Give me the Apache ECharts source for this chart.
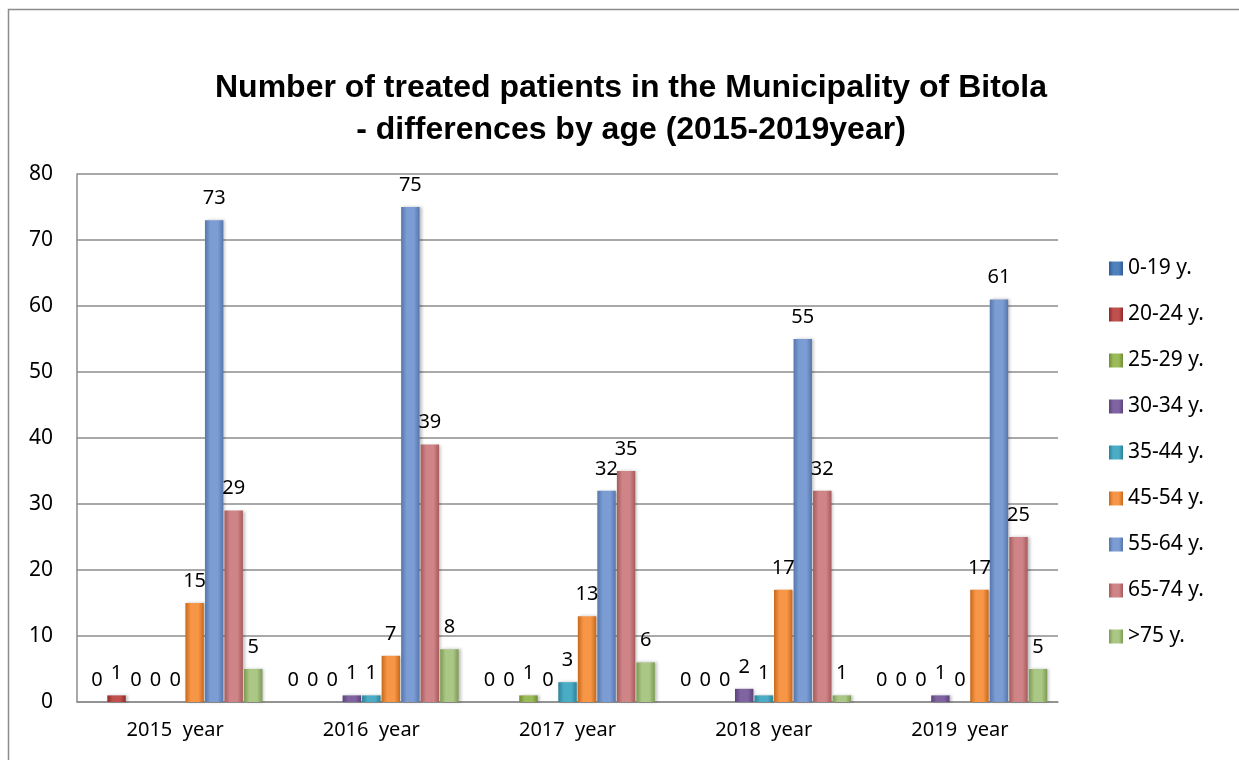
<!doctype html>
<html lang="en">
<head>
<meta charset="UTF-8">
<script src="https://cdn.jsdelivr.net/npm/echarts@6/dist/echarts.min.js"></script>
<style>
  html, body { margin: 0; padding: 0; background: #fff; }
  #main { width: 1239px; height: 760px; }
</style>
</head>
<body>
<div id="main"></div>
<script type="text/javascript">
// data
var years = ['2015  year', '2016  year', '2017  year', '2018  year', '2019  year'];
var ageGroups = ['0-19 y.', '20-24 y.', '25-29 y.', '30-34 y.', '35-44 y.', '45-54 y.', '55-64 y.', '65-74 y.', '>75 y.'];
var age0_19  = [0, 0, 0, 0, 0];
var age20_24 = [1, 0, 0, 0, 0];
var age25_29 = [0, 0, 1, 0, 0];
var age30_34 = [0, 1, 0, 2, 1];
var age35_44 = [0, 1, 3, 1, 0];
var age45_54 = [15, 7, 13, 17, 17];
var age55_64 = [73, 75, 32, 55, 61];
var age65_74 = [29, 39, 35, 32, 25];
var age75up  = [5, 8, 6, 1, 5];
var yTicks = [0, 10, 20, 30, 40, 50, 60, 70, 80];

var allSeries = [age0_19, age20_24, age25_29, age30_34, age35_44, age45_54, age55_64, age65_74, age75up];
// edge / middle colour for each bar
var colors = [
    ['#2f5b92', '#4f81bd'],
    ['#8e2a28', '#c0504d'],
    ['#6e8c34', '#9bbb59'],
    ['#5b4479', '#8064a2'],
    ['#2b8399', '#4bacc6'],
    ['#c8691a', '#f79646'],
    ['#5676ad', '#7b9dd3'],
    ['#a85a5c', '#cf8587'],
    ['#7d9b53', '#abc785']
];

var myChart = echarts.init(document.getElementById('main'));

var series = [];
for (var i = 0; i < ageGroups.length; i++) {
    series.push({
        name: ageGroups[i],
        type: 'bar',
        data: allSeries[i],
        barGap: '6%',
        barCategoryGap: '11%',
        itemStyle: {
            color: new echarts.graphic.LinearGradient(0, 0, 1, 0, [
                { offset: 0, color: colors[i][0] },
                { offset: 0.3, color: colors[i][1] },
                { offset: 0.7, color: colors[i][1] },
                { offset: 1, color: colors[i][0] }
            ]),
            shadowColor: 'rgba(0,0,0,0.25)',
            shadowBlur: 3,
            shadowOffsetX: 2
        },
        label: {
            show: true,
            position: 'top',
            distance: 12,
            color: '#000',
            fontFamily: 'Noto Sans',
            fontSize: 20
        }
    });
}

option = {
    animation: false,
    backgroundColor: '#fff',
    title: {
        text: 'Number of treated patients in the Municipality of Bitola\n- differences by age (2015-2019year)',
        left: 626,
        textAlign: 'center',
        top: 62,
        textStyle: {
            fontFamily: 'Liberation Sans',
            fontWeight: 'bold',
            fontSize: 32,
            lineHeight: 42,
            color: '#000'
        }
    },
    graphic: [{
        type: 'rect',
        shape: { x: 8.5, y: 9.5, width: 1250, height: 780 },
        style: { fill: 'none', stroke: '#8c8c8c', lineWidth: 1.5 },
        silent: true
    }],
    legend: {
        orient: 'vertical',
        left: 1104,
        top: 253,
        itemWidth: 14,
        itemHeight: 14,
        itemGap: 25,
        icon: 'rect',
        data: ageGroups,
        textStyle: {
            fontFamily: 'Noto Sans',
            fontSize: 21,
            color: '#000'
        }
    },
    grid: {
        left: 77,
        right: 181,
        top: 174,
        bottom: 58
    },
    xAxis: {
        type: 'category',
        data: years,
        axisTick: { show: false },
        axisLine: { lineStyle: { color: '#8c8c8c', width: 1.5 } },
        axisLabel: {
            color: '#000',
            fontFamily: 'Noto Sans',
            fontSize: 20,
            margin: 18
        }
    },
    yAxis: {
        type: 'value',
        min: yTicks[0],
        max: yTicks[yTicks.length - 1],
        interval: 10,
        axisLine: { show: true, lineStyle: { color: '#8c8c8c', width: 1.5 } },
        axisTick: { show: false },
        splitLine: { lineStyle: { color: '#8c8c8c', width: 1.5 } },
        axisLabel: {
            color: '#000',
            fontFamily: 'Noto Sans',
            fontSize: 21,
            margin: 24
        }
    },
    series: series
};
myChart.setOption(option);
</script>
</body>
</html>
